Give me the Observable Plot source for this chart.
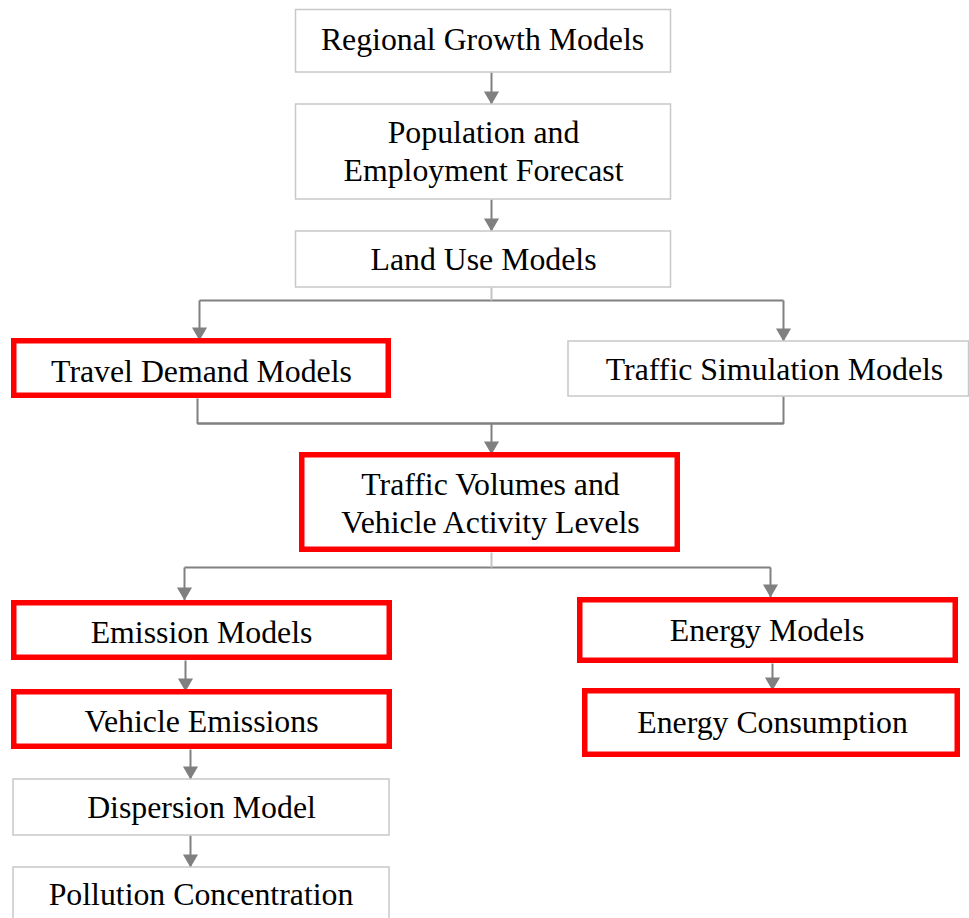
<!DOCTYPE html>
<html>
<head>
<meta charset="utf-8">
<script src="https://cdn.jsdelivr.net/npm/d3@7"></script>
<script src="https://cdn.jsdelivr.net/npm/@observablehq/plot@0.6"></script>
<style>
  html, body { margin: 0; padding: 0; background: #fff; }
  svg { display: block; }
</style>
</head>
<body>
<div id="chart"></div>
<script>
// ---- Node data ----
const labels = [
  "Regional Growth Models",
  "Population and\nEmployment Forecast",
  "Land Use Models",
  "Travel Demand Models",
  "Traffic Simulation Models",
  "Traffic Volumes and\nVehicle Activity Levels",
  "Emission Models",
  "Vehicle Emissions",
  "Dispersion Model",
  "Pollution Concentration",
  "Energy Models",
  "Energy Consumption"
];
const highlighted = [false, false, false, true, false, true, true, true, false, false, true, true];
// box layout (diagram units = px)
const boxX1 = [295.5, 295.5, 295.5, 13.75, 568, 301.75, 13.75, 13.75, 13, 13, 579.75, 584.75];
const boxX2 = [670.5, 670.5, 670.5, 388.25, 968.5, 677.25, 389.25, 389.25, 389, 389, 955.25, 957.25];
const boxY1 = [9.5, 104, 231, 340.75, 341, 454.75, 602.75, 691.75, 779, 867, 599.75, 690.75];
const boxY2 = [72, 199, 287, 395.25, 396, 549.25, 657.25, 746.25, 835, 930, 660.25, 754.25];
const labelX = [482, 483, 483, 201, 774, 490, 201, 201, 201, 200.5, 766.5, 772];
const labelY = [37.5, 149.5, 257.5, 369.5, 367.5, 501.5, 630.5, 719.5, 805.5, 892.5, 628.5, 720.5];

// ---- Connector data (polylines) ----
const connectorId = [0,0, 1,1, 2,2, 3,3, 4,4, 5,5, 6,6,6, 7,7,7, 8,8, 9,9, 10,10, 11,11, 12,12, 13,13, 14,14, 15,15, 16,16];
const connectorX  = [491,491, 491,491, 491,491, 199,783, 199,199, 783,783, 197,197,783, 783,783,197, 491,491, 491,491, 184,770, 184,184, 770,770, 185,185, 190,190, 190,190, 772,772];
const connectorY  = [72,104, 199,231, 287,300, 300,300, 300,340, 300,341, 398,423,423, 396,423,423, 423,454, 552,567, 567,567, 567,600, 567,597, 660,691, 749,779, 835,867, 663,690];
const connectorLight = [false, false, true, false, false, false, false, false, false, true, false, false, false, false, false, false, false];
// arrow tips
const arrowX = [491, 491, 199, 783, 491, 184, 770, 185, 190, 190, 772];
const arrowY = [104, 231, 340, 341, 454, 600, 597, 691, 779, 867, 690];

const nodes = labels.map((label, i) => ({
  label, hl: highlighted[i],
  x1: boxX1[i], x2: boxX2[i], y1: boxY1[i], y2: boxY2[i],
  lx: labelX[i], ly: labelY[i]
}));
const connectorPts = connectorId.map((id, i) => ({id, x: connectorX[i], y: connectorY[i], light: connectorLight[id]}));
const arrows = arrowX.map((x, i) => ({x, y: arrowY[i]}));

const chart = Plot.plot({
  width: 969,
  height: 918,
  margin: 0,
  x: {domain: [0, 969], range: [0, 969], axis: null},
  y: {domain: [0, 918], range: [0, 918], axis: null},
  style: {background: "#fff", fontFamily: "'Liberation Serif', 'Times New Roman', serif"},
  marks: [
    Plot.line(connectorPts.filter(d => !d.light), {x: "x", y: "y", z: "id", stroke: "#808080", strokeWidth: 2, strokeLinejoin: "miter", strokeLinecap: "butt"}),
    Plot.line(connectorPts.filter(d => d.light), {x: "x", y: "y", z: "id", stroke: "#c4c4c4", strokeWidth: 2, strokeLinecap: "butt"}),
    Plot.dot(arrows, {x: "x", y: "y", dy: -8.7, symbol: "triangle", r: 5.6, rotate: 180, fill: "#808080", stroke: "none"}),
    Plot.rect(nodes.filter(d => !d.hl), {x1: "x1", x2: "x2", y1: "y1", y2: "y2", fill: "#fff", stroke: "#c8c8c8", strokeWidth: 1.5}),
    Plot.rect(nodes.filter(d => d.hl), {x1: "x1", x2: "x2", y1: "y1", y2: "y2", fill: "#fff", stroke: "#ff0000", strokeWidth: 5.5}),
    Plot.text(nodes, {x: "lx", y: "ly", text: "label", fontSize: 31.8, lineHeight: 1.2, fill: "#000", textAnchor: "middle", lineAnchor: "middle"})
  ]
});
document.getElementById("chart").appendChild(chart);
</script>
</body>
</html>
